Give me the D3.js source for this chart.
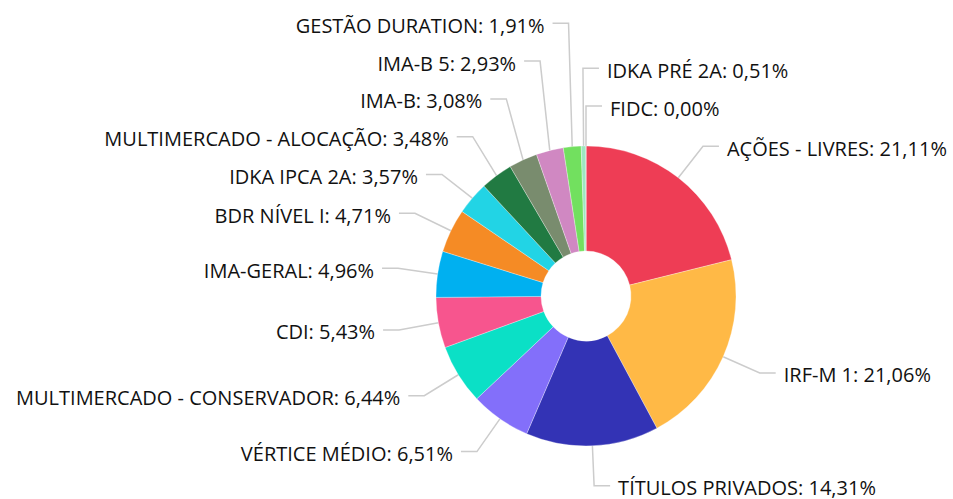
<!DOCTYPE html>
<html>
<head>
<meta charset="utf-8">
<script src="https://cdn.jsdelivr.net/npm/d3@7"></script>
<style>
  html, body { margin: 0; padding: 0; background: #fff; }
  svg { display: block; }
  text { font-family: "Open Sans", sans-serif; }
</style>
</head>
<body>
<svg id="chart" width="953" height="499"></svg>
<script>
const categories = [
  "AÇÕES - LIVRES", "IRF-M 1", "TÍTULOS PRIVADOS", "VÉRTICE MÉDIO",
  "MULTIMERCADO - CONSERVADOR", "CDI", "IMA-GERAL", "BDR NÍVEL I",
  "IDKA IPCA 2A", "MULTIMERCADO - ALOCAÇÃO", "IMA-B", "IMA-B 5",
  "GESTÃO DURATION", "IDKA PRÉ 2A", "FIDC"
];
const values = [21.11, 21.06, 14.31, 6.51, 6.44, 5.43, 4.96, 4.71, 3.57, 3.48, 3.08, 2.93, 1.91, 0.51, 0.00];
const colors = [
  "#EE3D55", "#FFB946", "#3333B5", "#836FFA",
  "#0BE0C6", "#F7558E", "#00B0F0", "#F58B25",
  "#22D4E5", "#217A42", "#798C6E", "#D088C2",
  "#72E05F", "#9EE6C1", "#B8E8D0"
];

const W = 953, H = 499;
const cx = 586, cy = 296;
const R_OUT = 150, R_IN = 45, R_ELB = 190;
const LEN2 = 16, GAP = 8, SPACING = 37.8, TOP = 23.3;
const FONT = 20;

const svg = d3.select("#chart");
const g = svg.append("g").attr("transform", `translate(${cx},${cy})`);

const pie = d3.pie().sort(null).value(d => d);
const arcs = pie(values);
const arc = d3.arc().innerRadius(R_IN).outerRadius(R_OUT);

const color = d3.scaleOrdinal().domain(categories).range(colors);
const locale = d3.formatLocale({decimal: ",", thousands: ".", grouping: [3], currency: ["R$", ""]});
const fmt = locale.format(".2f");

// label layout
const items = arcs.map((a, i) => {
  const mid = (a.startAngle + a.endAngle) / 2;
  const s = Math.sin(mid), c = Math.cos(mid);
  const right = s > -0.03;
  return {
    i, mid, s, c, right,
    ord: right ? (mid > Math.PI ? mid - 2 * Math.PI : mid) : -mid,
    px: R_OUT * s, py: -R_OUT * c,
    ex: R_ELB * s, y: -R_ELB * c
  };
});

function layoutSide(list) {
  list.sort((a, b) => a.ord - b.ord);
  for (let k = list.length - 2; k >= 0; k--) {
    list[k].y = Math.min(list[k].y, list[k + 1].y - SPACING);
  }
  const top = TOP - cy;
  if (list.length && list[0].y < top) {
    list[0].y = top;
    for (let k = 1; k < list.length; k++) {
      list[k].y = Math.max(list[k].y, list[k - 1].y + SPACING);
    }
  }
}
layoutSide(items.filter(d => d.right));
layoutSide(items.filter(d => !d.right));

// leader lines
g.append("g").selectAll("polyline")
  .data(items)
  .join("polyline")
  .attr("fill", "none")
  .attr("stroke", "#cccccc")
  .attr("stroke-width", 1.5)
  .attr("points", d => {
    const dir = d.right ? 1 : -1;
    return [[d.px, d.py], [d.ex, d.y], [d.ex + dir * LEN2, d.y]].map(p => p.join(",")).join(" ");
  });

// slices
g.append("g").selectAll("path")
  .data(arcs)
  .join("path")
  .attr("d", arc)
  .attr("fill", (d, i) => color(categories[i]))
  .attr("stroke", "#ffffff")
  .attr("stroke-width", 0.5)
  .attr("stroke-opacity", 0.6);

// labels
g.append("g").selectAll("text")
  .data(items)
  .join("text")
  .attr("x", d => d.ex + (d.right ? 1 : -1) * (LEN2 + GAP))
  .attr("y", d => d.y + 9.5)
  .attr("text-anchor", d => d.right ? "start" : "end")
  .attr("font-size", FONT)
  .attr("fill", "#111111")
  .text(d => `${categories[d.i]}: ${fmt(values[d.i])}%`);
</script>
</body>
</html>
